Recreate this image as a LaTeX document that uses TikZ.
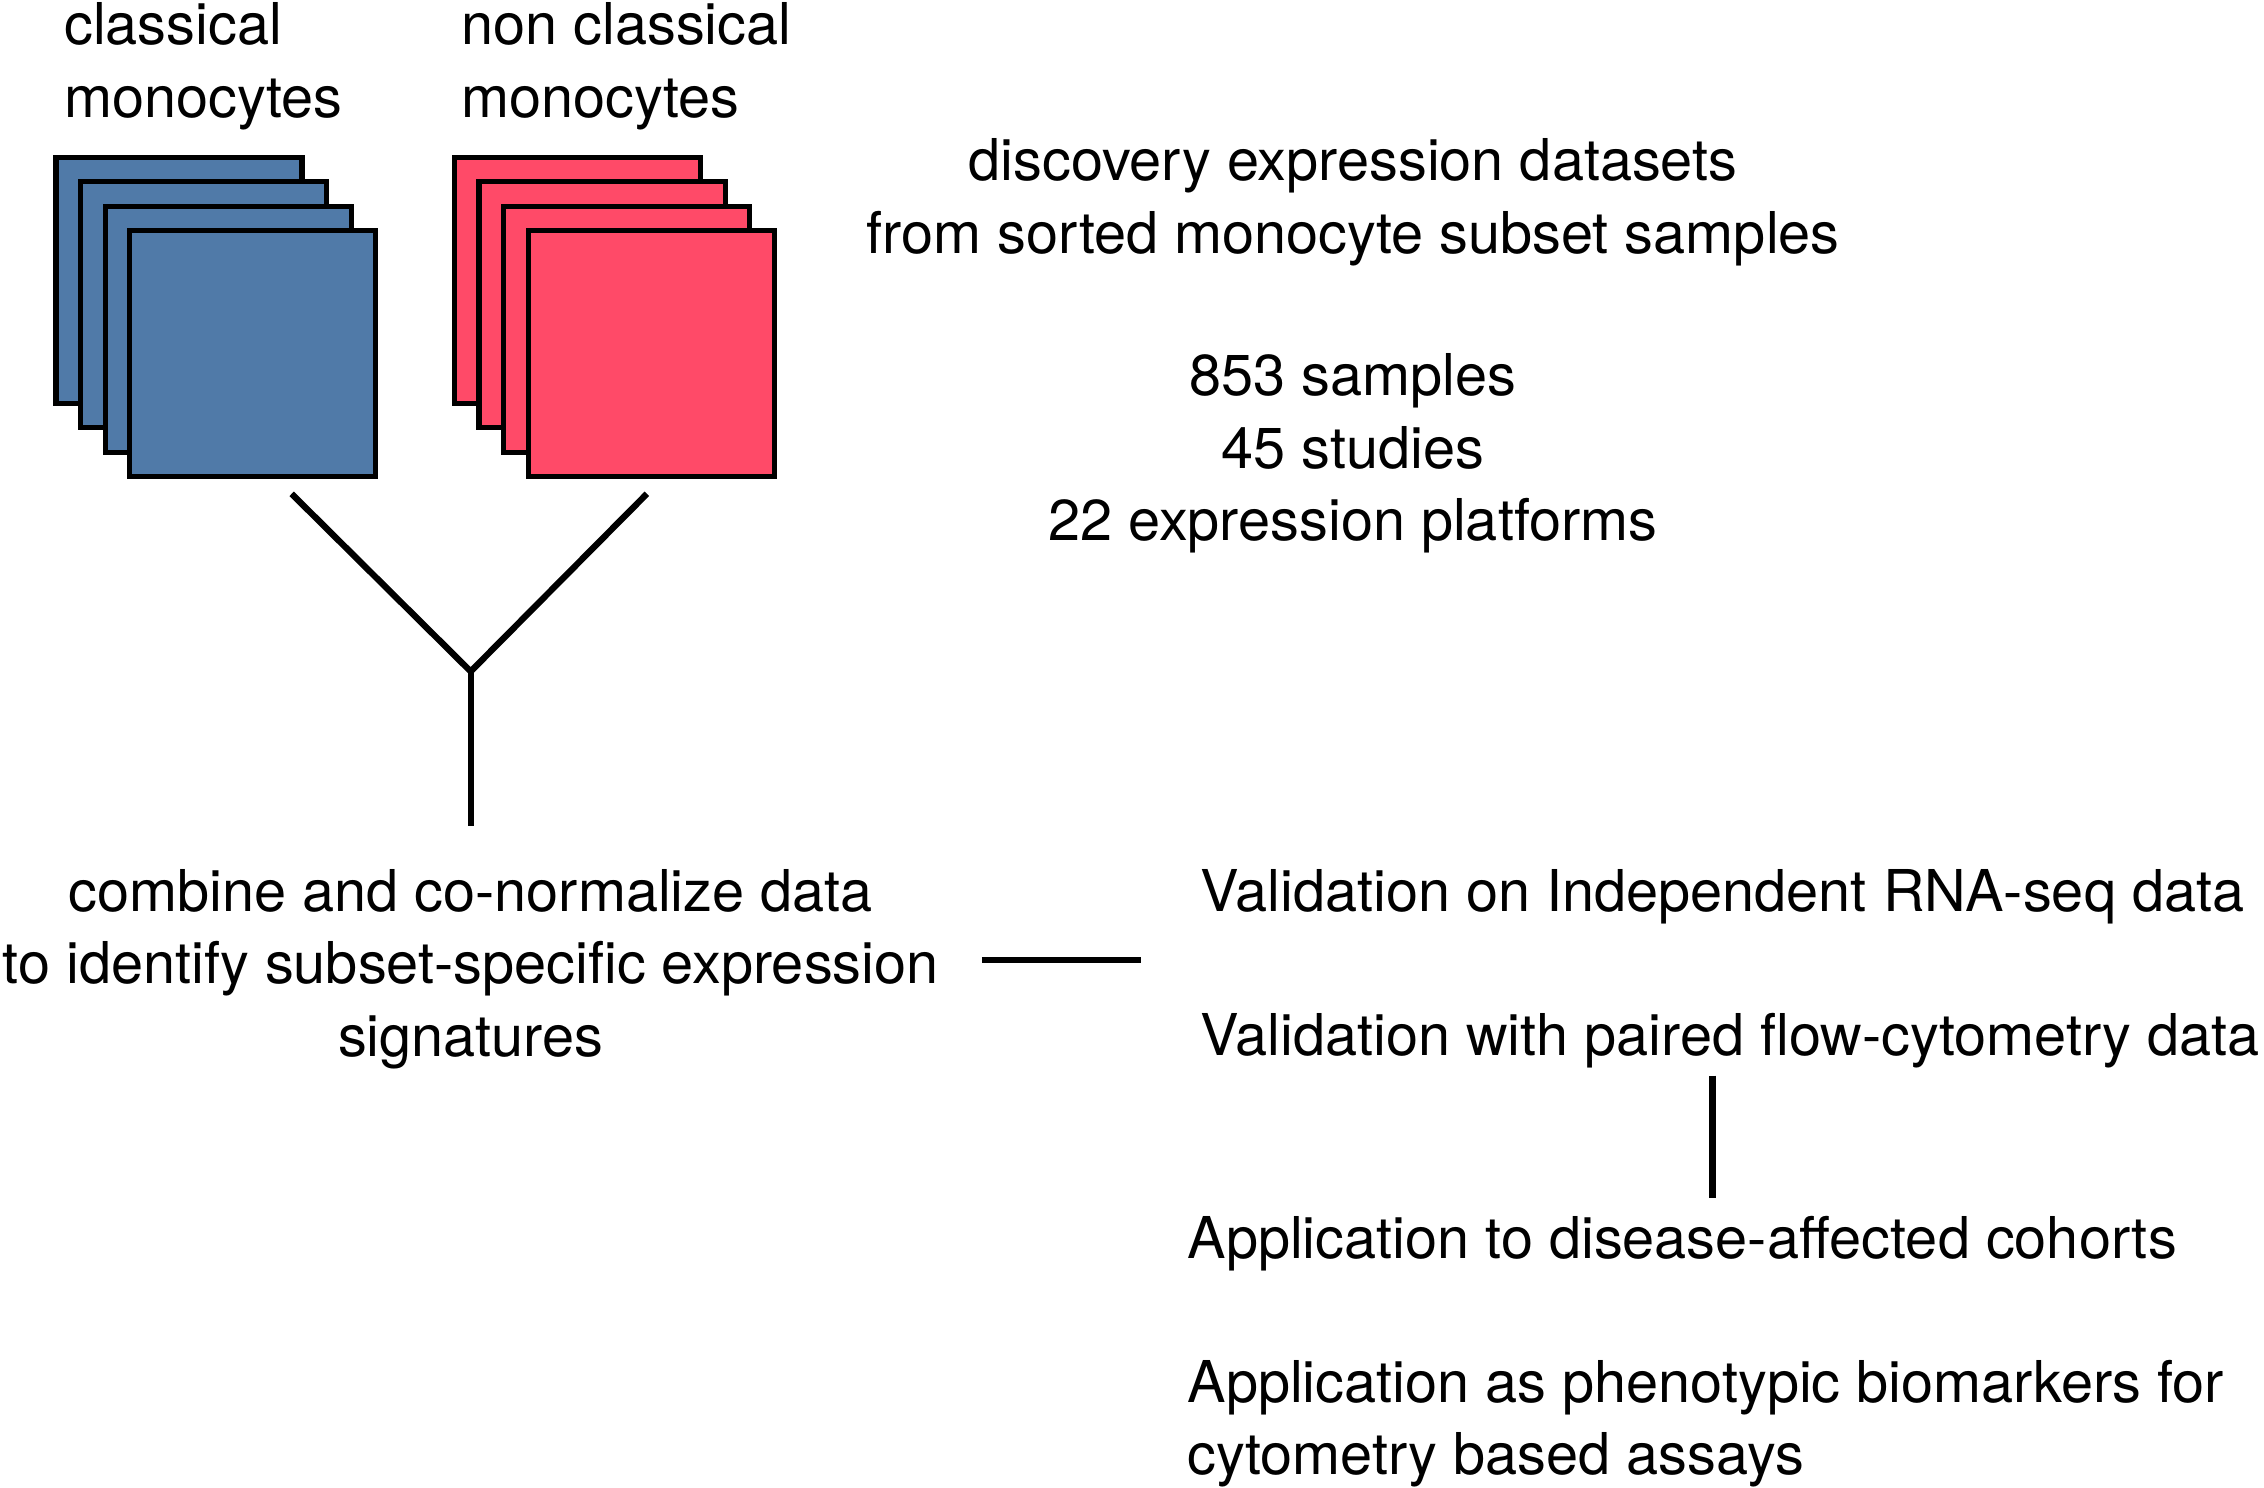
\documentclass[tikz,border=0pt]{standalone}
\usepackage{fontspec}
\setmainfont{TeX Gyre Heros}
\definecolor{monoblue}{RGB}{80,122,168}
\definecolor{monored}{RGB}{255,74,104}
\begin{document}
\begin{tikzpicture}[x=0.014439cm,y=-0.014439cm,
  txt/.style={inner sep=0pt,font=\fontsize{16.4}{20.6}\selectfont},
  card/.style={draw=black,line width=1.5pt,minimum width=2.46cm,minimum height=2.46cm,inner sep=0pt,anchor=north west},
  link/.style={line width=1.8pt,black}]
\useasboundingbox (0,0) rectangle (1568,1030);
% blue stack
\node[card,fill=monoblue] (b1) at (37,107) {};
\node[card,fill=monoblue] (b2) at (54,124) {};
\node[card,fill=monoblue] (b3) at (71,141) {};
\node[card,fill=monoblue] (b4) at (88,158) {};
% red stack
\node[card,fill=monored] (r1) at (313,107) {};
\node[card,fill=monored] (r2) at (330,124) {};
\node[card,fill=monored] (r3) at (347,141) {};
\node[card,fill=monored] (r4) at (364,158) {};
% labels
\node[txt,align=left,anchor=west] (lc) at (44,46) {classical\\monocytes};
\node[txt,align=left,anchor=west] (ln) at (319,46) {non classical\\monocytes};
\node[txt,align=center] (disc) at (937,140) {discovery expression datasets\\from sorted monocyte subset samples};
\node[txt,align=center] (stats) at (937,314) {853 samples\\45 studies\\22 expression platforms};
\node[txt,align=center] (comb) at (326,671) {combine and co-normalize data\\to identify subset-specific expression\\signatures};
\node[txt,anchor=west] (v1) at (831,621) {Validation on Independent RNA-seq data};
\node[txt,anchor=west] (v2) at (831,721) {Validation with paired flow-cytometry data};
\node[txt,anchor=west] (a1) at (822,861) {Application to disease-affected cohorts};
\node[txt,align=left,anchor=west] (a2) at (822,986) {Application as phenotypic biomarkers for\\cytometry based assays};
% connectors
\coordinate (ya) at (202,342);
\coordinate (yb) at (448,342);
\coordinate (yj) at (326,465);
\coordinate (yc) at (326,572);
\coordinate (h1) at (680,665);
\coordinate (h2) at (790,665);
\coordinate (p1) at (1186,745);
\coordinate (p2) at (1186,830);
\draw[link] (ya) -- (yj) -- (yb);
\draw[link] (yj) -- (yc);
\draw[link] (h1) -- (h2);
\draw[link] (p1) -- (p2);
\end{tikzpicture}
\end{document}
